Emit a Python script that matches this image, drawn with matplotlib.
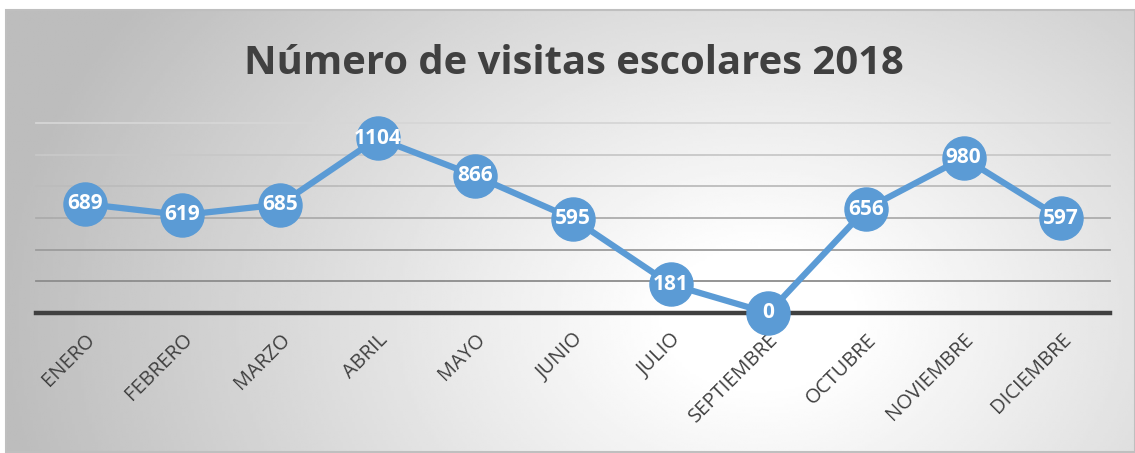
import matplotlib.pyplot as plt
import numpy as np

meses = ['ENERO', 'FEBRERO', 'MARZO', 'ABRIL', 'MAYO', 'JUNIO', 'JULIO',
         'SEPTIEMBRE', 'OCTUBRE', 'NOVIEMBRE', 'DICIEMBRE']
visitas = [689, 619, 685, 1104, 866, 595, 181, 0, 656, 980, 597]
grid_vals = [200, 400, 600, 800, 1000, 1200]

W, H = 1135, 453
fig = plt.figure(figsize=(W / 100, H / 100), dpi=100)

# radial gradient background inside the chart frame
bg = fig.add_axes([0, 0, 1, 1], zorder=-5)
bg.set_xlim(0, W)
bg.set_ylim(H, 0)
bg.axis('off')
x0, x1, y0, y1 = 6, 1135, 10, 452
xx, yy = np.meshgrid(np.linspace(x0, x1, 400), np.linspace(y0, y1, 200))
cx, cy = 760, 320
d = np.sqrt(((xx - cx) / 760) ** 2 + ((yy - cy) / 560) ** 2)
d = np.clip((d - 0.12) / 0.88, 0, 1)
shade = 1.0 - 0.26 * d
bg.imshow(shade, cmap='gray', vmin=0, vmax=1, extent=(x0, x1, y1, y0),
          aspect='auto', interpolation='bilinear')
bg.add_patch(plt.Rectangle((x0, y0), x1 - x0, y1 - y0, fill=False,
                           edgecolor='#bfbfbf', linewidth=1.5))

ax = fig.add_axes([36 / W, 1 - 313 / H, (1110 - 36) / W, (313 - 123) / H])
ax.patch.set_alpha(0)
x = np.arange(len(meses))
ax.set_xlim(-0.5, len(meses) - 0.5)
ax.set_ylim(0, 1200)

grid_cols = ['#8c8c8c', '#9c9c9c', '#acacac', '#bcbcbc', '#c8c8c8', '#d6d6d6']
for v, c in zip(grid_vals, grid_cols):
    ax.axhline(v, color=c, linewidth=1.3, zorder=1, clip_on=False)
ax.axhline(0, color='#404040', linewidth=3.2, zorder=2, clip_on=False)

ax.plot(x, visitas, color='#5b9bd5', linewidth=4.5, marker='o',
        markersize=31, clip_on=False, zorder=3)
for xi, v in zip(x, visitas):
    ax.text(xi, v, str(v), color='white', fontsize=15, fontweight='bold',
            family='Open Sans', ha='center', va='center', zorder=4)

for s in ax.spines.values():
    s.set_visible(False)
ax.set_yticks([])
ax.set_xticks(x)
ax.set_xticklabels(meses, rotation=45, ha='right', rotation_mode='anchor',
                   fontsize=14.5, color='#404040', family='Open Sans')
ax.tick_params(axis='x', length=0, pad=12)

fig.text(574 / W, 1 - 63 / H, 'Número de visitas escolares 2018',
         ha='center', va='center', fontsize=28.8, fontweight='bold',
         color='#404040', family='Open Sans')

fig.savefig('out.png', dpi=100)
